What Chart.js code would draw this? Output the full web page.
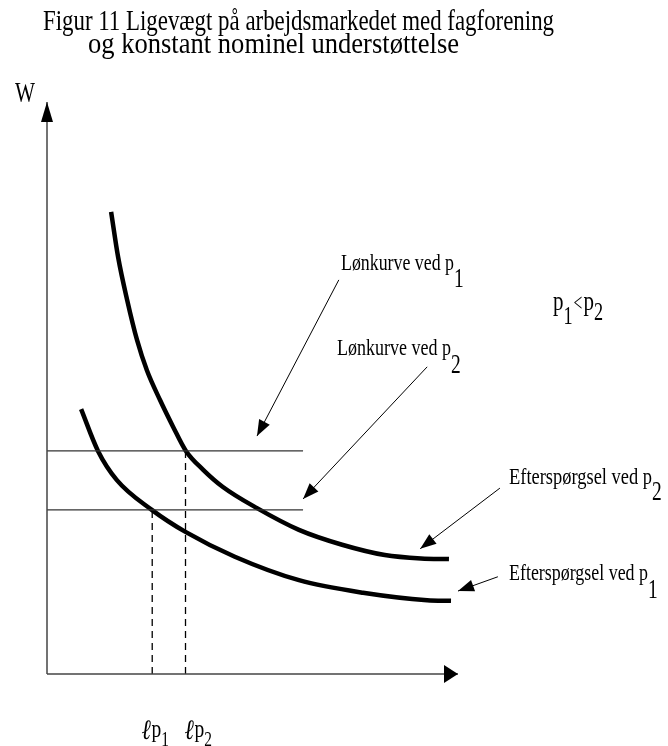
<!DOCTYPE html>
<html>
<head>
<meta charset="utf-8">
<script src="https://cdn.jsdelivr.net/npm/chart.js@4/dist/chart.umd.min.js"></script>
<style>
  html, body { margin: 0; padding: 0; background: #fff; }
  #c { display: block; }
</style>
</head>
<body>
<canvas id="c" width="668" height="746"></canvas>
<script>
// ---- DATA (axis units: L = employment 0..100, W = wage 0..100) ----
const demandP2_L = [15.6, 17.3, 19.5, 21.9, 24.3, 27.5, 30.7, 33.8, 38.0, 42.8, 51.1, 61.3, 71.8, 82.2, 91.0, 97.8];
const demandP2_W = [80.8, 72.9, 65.4, 58.4, 53.1, 47.9, 43.2, 39.0, 35.7, 32.7, 29.0, 25.2, 22.6, 20.8, 20.2, 20.1];
const demandP1_L = [8.3, 12.4, 17.0, 25.5, 33.8, 45.7, 61.3, 76.9, 92.5, 98.3];
const demandP1_W = [46.3, 39.0, 33.9, 28.7, 24.8, 20.5, 16.4, 14.2, 12.9, 12.8];
const wageLevels = [39.0, 28.7];      // Lønkurve ved p1, Lønkurve ved p2
const wageLineEnd = 62.3;
const employmentLevels = [25.6, 33.7]; // ℓp1, ℓp2 (dashed drop lines)
const employmentWage = [28.7, 39.0];
const axisMax = 100;

// annotation arrows (from label towards curve), in axis units
const arrowFromL = [71.0, 92.5, 110.2, 109.7];
const arrowFromW = [68.9, 53.7, 32.5, 17.0];
const arrowToL = [51.1, 62.3, 90.8, 100.0];
const arrowToW = [41.6, 30.6, 21.9, 14.5];

const titleLines = ["Figur 11 Ligevægt på arbejdsmarkedet med fagforening", "og konstant nominel understøttelse"];
const curveLabels = ["Lønkurve ved p", "Lønkurve ved p", "Efterspørgsel ved p", "Efterspørgsel ved p"];
const curveSubs = ["1", "2", "2", "1"];

// ---- build datasets ----
const toPts = (xs, ys) => xs.map((x, i) => ({ x: x, y: ys[i] }));
const datasets = [];
// axes
datasets.push({ data: [{ x: 0, y: 0 }, { x: 0, y: axisMax }], borderColor: '#444', borderWidth: 1.5 });
datasets.push({ data: [{ x: 0, y: 0 }, { x: axisMax, y: 0 }], borderColor: '#444', borderWidth: 1.5 });
// horizontal wage lines
wageLevels.forEach(w => datasets.push({
  data: [{ x: 0, y: w }, { x: wageLineEnd, y: w }], borderColor: '#333', borderWidth: 1.3
}));
// dashed employment lines
employmentLevels.forEach((l, i) => datasets.push({
  data: [{ x: l, y: 0 }, { x: l, y: employmentWage[i] }], borderColor: '#000', borderWidth: 1.3, borderDash: [7, 5]
}));
// demand curves
datasets.push({ data: toPts(demandP2_L, demandP2_W), borderColor: '#000', borderWidth: 4.5, cubicInterpolationMode: 'monotone' });
datasets.push({ data: toPts(demandP1_L, demandP1_W), borderColor: '#000', borderWidth: 4.5, cubicInterpolationMode: 'monotone' });

function arrowHead(ctx, x1, y1, x2, y2, len, half) {
  const a = Math.atan2(y2 - y1, x2 - x1);
  ctx.beginPath();
  ctx.moveTo(x2, y2);
  ctx.lineTo(x2 - len * Math.cos(a) + half * Math.sin(a), y2 - len * Math.sin(a) - half * Math.cos(a));
  ctx.lineTo(x2 - len * Math.cos(a) - half * Math.sin(a), y2 - len * Math.sin(a) + half * Math.cos(a));
  ctx.closePath();
  ctx.fill();
}

const SERIF = '"Liberation Serif", serif';
function txt(ctx, s, x, y, size, width, sx0, style) {
  ctx.save();
  ctx.font = (style ? style + ' ' : '') + size + 'px ' + SERIF;
  const w = ctx.measureText(s).width;
  const sx = width ? width / w : (sx0 || 0.75);
  ctx.translate(x, y);
  ctx.scale(sx, 1);
  ctx.fillStyle = '#000';
  ctx.textBaseline = 'alphabetic';
  ctx.fillText(s, 0, 0);
  ctx.restore();
  return x + w * sx;
}

const decor = {
  id: 'decor',
  afterDatasetsDraw(chart) {
    const ctx = chart.ctx, xs = chart.scales.x, ys = chart.scales.y;
    ctx.save();
    ctx.fillStyle = '#000';
    // axis arrowheads
    const ox = xs.getPixelForValue(0), oy = ys.getPixelForValue(0);
    arrowHead(ctx, ox, oy, ox, ys.getPixelForValue(axisMax), 20, 6);
    arrowHead(ctx, ox, oy, xs.getPixelForValue(axisMax), oy, 14, 9);
    // annotation arrows
    ctx.strokeStyle = '#000';
    ctx.lineWidth = 1;
    for (let i = 0; i < arrowFromL.length; i++) {
      const x1 = xs.getPixelForValue(arrowFromL[i]), y1 = ys.getPixelForValue(arrowFromW[i]);
      const x2 = xs.getPixelForValue(arrowToL[i]), y2 = ys.getPixelForValue(arrowToW[i]);
      ctx.beginPath(); ctx.moveTo(x1, y1); ctx.lineTo(x2, y2); ctx.stroke();
      arrowHead(ctx, x1, y1, x2, y2, 16, 6);
    }
    // title
    txt(ctx, titleLines[0], 43, 30, 30, 511);
    txt(ctx, titleLines[1], 88, 53, 30, 371);
    // axis label W
    txt(ctx, 'W', 15, 102, 30, 20);
    // curve labels
    const lx = [341, 337, 509, 509], lb = [270, 355, 484, 580], lw = [113, 114, 143, 139];
    const sb = [287, 373, 500, 598];
    for (let i = 0; i < curveLabels.length; i++) {
      const e = txt(ctx, curveLabels[i], lx[i], lb[i], 23, lw[i]);
      txt(ctx, curveSubs[i], e, sb[i], 27, null, 0.72);
    }
    // p1 < p2
    let e = txt(ctx, 'p', 553, 310, 28, null, 0.75);
    e = txt(ctx, '1', e, 324, 26, null, 0.7);
    e = txt(ctx, '<', e + 1, 311, 26, null, 0.6);
    e = txt(ctx, 'p', e + 1, 310, 28, null, 0.75);
    txt(ctx, '2', e, 320, 26, null, 0.7);
    // ℓp labels under axis
    const ex = [142, 185];
    ['1', '2'].forEach((d, i) => {
      let q = txt(ctx, 'ℓ', ex[i], 739, 28, null, 0.8, 'italic bold');
      q = txt(ctx, 'p', q, 737, 26, null, 0.75);
      txt(ctx, d, q, 746, 22, null, 0.7);
    });
    ctx.restore();
  }
};

new Chart(document.getElementById('c'), {
  type: 'scatter',
  data: { datasets: datasets.map(d => Object.assign({ showLine: true, pointRadius: 0, fill: false, clip: false, borderCapStyle: 'butt' }, d)) },
  options: {
    responsive: false,
    animation: false,
    events: [],
    layout: { padding: { left: 47, right: 210, top: 102, bottom: 72 } },
    plugins: { legend: { display: false }, tooltip: { enabled: false }, title: { display: false } },
    scales: {
      x: { type: 'linear', min: 0, max: axisMax, display: false },
      y: { type: 'linear', min: 0, max: axisMax, display: false }
    }
  },
  plugins: [decor]
});
</script>
</body>
</html>
